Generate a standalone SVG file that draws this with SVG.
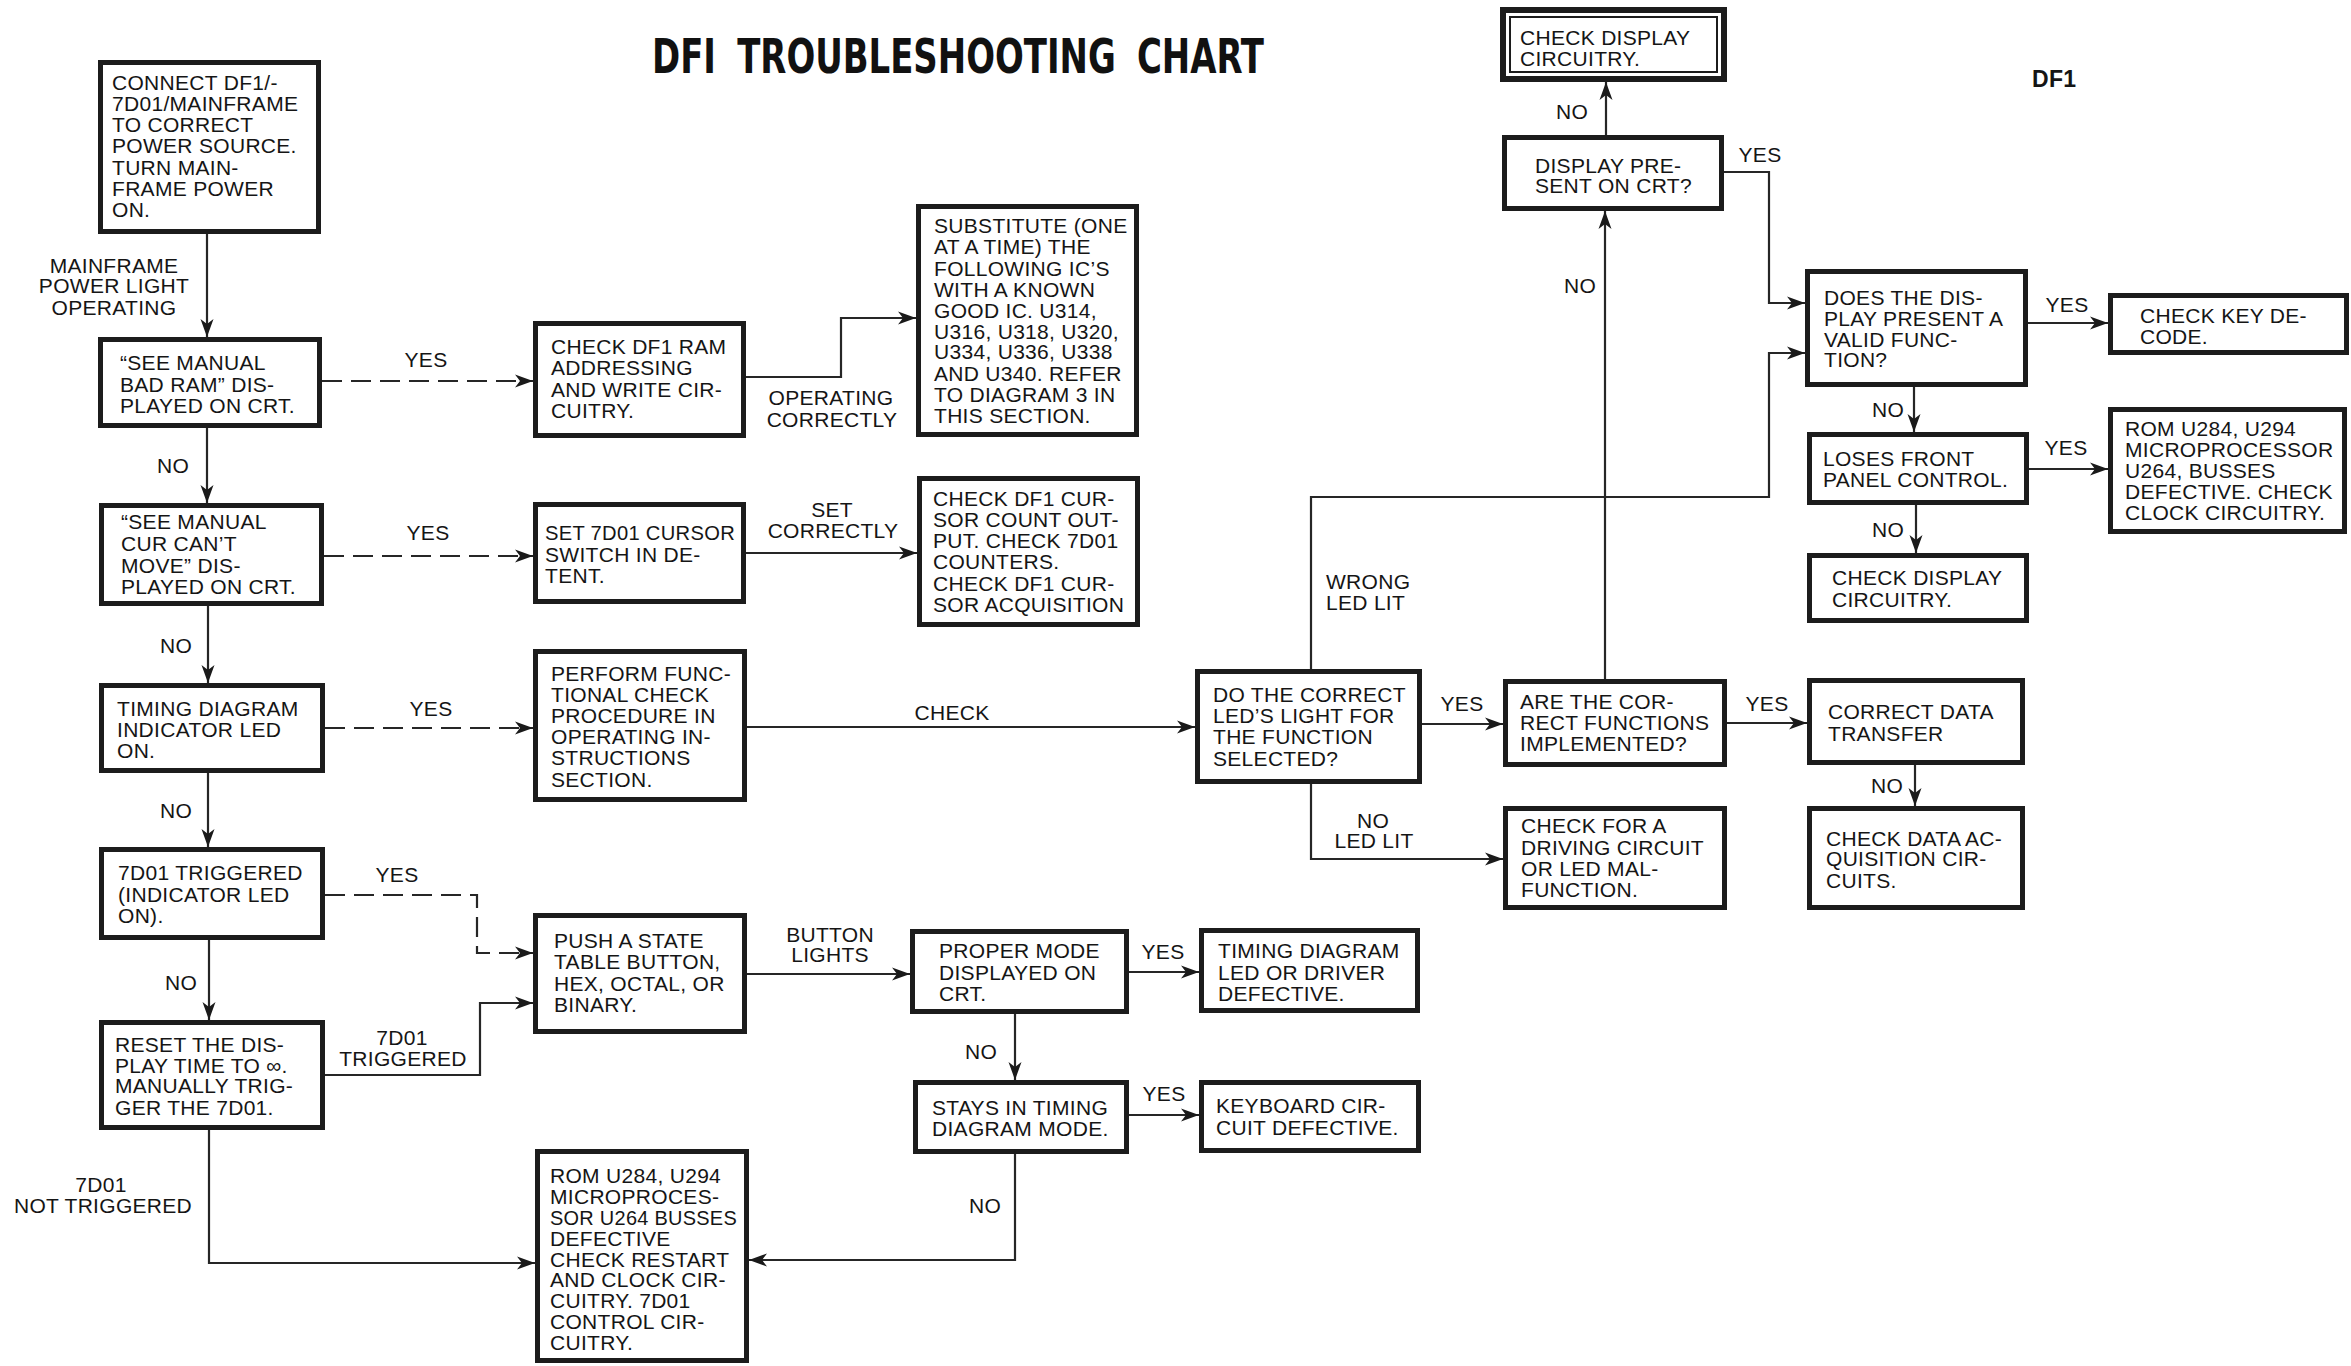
<svg xmlns="http://www.w3.org/2000/svg" width="2351" height="1366" viewBox="0 0 2351 1366">
<style>
.box{fill:#fff;stroke:#1c1c1c;stroke-width:5}
.t{font-family:"Liberation Sans",Arial,sans-serif;font-size:21px;fill:#151515;letter-spacing:0.3px}
.m{text-anchor:middle}
.c{fill:none;stroke:#262626;stroke-width:2.2}
.d{stroke-dasharray:20 9}
.title{font-family:"Liberation Sans Narrow","DejaVu Sans Condensed","Liberation Sans",sans-serif;font-size:48px;font-weight:bold;fill:#111}
</style>
<defs>
<marker id="ah" markerUnits="userSpaceOnUse" markerWidth="20" markerHeight="14" refX="18" refY="7" orient="auto">
<path d="M0,0.5 L18,7 L0,13.5 L5,7 Z" fill="#1a1a1a"/>
</marker>
</defs>
<rect width="2351" height="1366" fill="#fff"/>
<text class="title" x="652" y="73" textLength="612" lengthAdjust="spacingAndGlyphs" word-spacing="12">DFI TROUBLESHOOTING CHART</text>
<text class="t" x="2032" y="87" style="font-weight:bold;font-size:23px">DF1</text>

<g id="connectors">
<path class="c" d="M207,234 V337" marker-end="url(#ah)"/>
<path class="c" d="M207,428 V503" marker-end="url(#ah)"/>
<path class="c" d="M208,606 V683" marker-end="url(#ah)"/>
<path class="c" d="M208,773 V847" marker-end="url(#ah)"/>
<path class="c" d="M209,940 V1020" marker-end="url(#ah)"/>
<path class="c d" d="M322,381 H533" marker-end="url(#ah)"/>
<path class="c d" d="M324,556 H533" marker-end="url(#ah)"/>
<path class="c d" d="M325,728 H533" marker-end="url(#ah)"/>
<path class="c d" d="M325,895 H477 V953 H533" marker-end="url(#ah)"/>
<path class="c" d="M325,1075 H480 V1003 H533" marker-end="url(#ah)"/>
<path class="c" d="M209,1130 V1263 H535" marker-end="url(#ah)"/>
<path class="c" d="M746,377 H841 V318 H916" marker-end="url(#ah)"/>
<path class="c" d="M746,553 H917" marker-end="url(#ah)"/>
<path class="c" d="M747,727 H1195" marker-end="url(#ah)"/>
<path class="c" d="M747,974 H910" marker-end="url(#ah)"/>
<path class="c" d="M1129,972 H1199" marker-end="url(#ah)"/>
<path class="c" d="M1015,1014 V1080" marker-end="url(#ah)"/>
<path class="c" d="M1129,1115 H1199" marker-end="url(#ah)"/>
<path class="c" d="M1015,1154 V1260 H749" marker-end="url(#ah)"/>
<path class="c" d="M1422,724 H1503" marker-end="url(#ah)"/>
<path class="c" d="M1311,784 V859 H1503" marker-end="url(#ah)"/>
<path class="c" d="M1311,669 V497 H1769 V353 H1805" marker-end="url(#ah)"/>
<path class="c" d="M1605,679 V211" marker-end="url(#ah)"/>
<path class="c" d="M1727,723 H1807" marker-end="url(#ah)"/>
<path class="c" d="M1606,135 V82" marker-end="url(#ah)"/>
<path class="c" d="M1724,172 H1769 V303 H1805" marker-end="url(#ah)"/>
<path class="c" d="M2028,323 H2108" marker-end="url(#ah)"/>
<path class="c" d="M1914,387 V432" marker-end="url(#ah)"/>
<path class="c" d="M2029,469 H2108" marker-end="url(#ah)"/>
<path class="c" d="M1916,505 V553" marker-end="url(#ah)"/>
<path class="c" d="M1915,765 V806" marker-end="url(#ah)"/>
<text class="t m"><tspan x="114" y="273">MAINFRAME</tspan><tspan x="114" y="293">POWER LIGHT</tspan><tspan x="114" y="315">OPERATING</tspan></text>
<text class="t m" x="173" y="473">NO</text>
<text class="t m" x="176" y="653">NO</text>
<text class="t m" x="176" y="818">NO</text>
<text class="t m" x="181" y="990">NO</text>
<text class="t m" x="426" y="367">YES</text>
<text class="t m" x="428" y="540">YES</text>
<text class="t m" x="431" y="716">YES</text>
<text class="t m" x="397" y="882">YES</text>
<text class="t m"><tspan x="402" y="1045">7D01</tspan><tspan x="403" y="1066">TRIGGERED</tspan></text>
<text class="t m"><tspan x="101" y="1192">7D01</tspan><tspan x="103" y="1213">NOT TRIGGERED</tspan></text>
<text class="t m"><tspan x="831" y="405">OPERATING</tspan><tspan x="832" y="427">CORRECTLY</tspan></text>
<text class="t m"><tspan x="832" y="517">SET</tspan><tspan x="833" y="538">CORRECTLY</tspan></text>
<text class="t m" x="952" y="720">CHECK</text>
<text class="t m"><tspan x="830" y="942">BUTTON</tspan><tspan x="830" y="962">LIGHTS</tspan></text>
<text class="t m" x="1163" y="959">YES</text>
<text class="t m" x="981" y="1059">NO</text>
<text class="t m" x="1164" y="1101">YES</text>
<text class="t m" x="985" y="1213">NO</text>
<text class="t m" x="1462" y="711">YES</text>
<text class="t m"><tspan x="1373" y="828">NO</tspan><tspan x="1374" y="848">LED LIT</tspan></text>
<text class="t"><tspan x="1326" y="589">WRONG</tspan><tspan x="1326" y="610">LED LIT</tspan></text>
<text class="t m" x="1580" y="293">NO</text>
<text class="t m" x="1767" y="711">YES</text>
<text class="t m" x="1572" y="119">NO</text>
<text class="t m" x="1760" y="162">YES</text>
<text class="t m" x="2067" y="312">YES</text>
<text class="t m" x="1888" y="417">NO</text>
<text class="t m" x="2066" y="455">YES</text>
<text class="t m" x="1888" y="537">NO</text>
<text class="t m" x="1887" y="793">NO</text>
</g>

<g id="n1"><rect class="box" x="100.5" y="62.5" width="218" height="169"/>
<text class="t"><tspan x="112" y="90">CONNECT DF1/-</tspan><tspan x="112" y="111">7D01/MAINFRAME</tspan><tspan x="112" y="132">TO CORRECT</tspan><tspan x="112" y="153">POWER SOURCE.</tspan><tspan x="112" y="175">TURN MAIN-</tspan><tspan x="112" y="196">FRAME POWER</tspan><tspan x="112" y="217">ON.</tspan></text></g>
<g id="n2"><rect class="box" x="100.5" y="339.5" width="219" height="86"/>
<text class="t"><tspan x="120" y="370">“SEE MANUAL</tspan><tspan x="120" y="392">BAD RAM” DIS-</tspan><tspan x="120" y="413">PLAYED ON CRT.</tspan></text></g>
<g id="n3"><rect class="box" x="535.5" y="323.5" width="208" height="112"/>
<text class="t"><tspan x="551" y="354">CHECK DF1 RAM</tspan><tspan x="551" y="375">ADDRESSING</tspan><tspan x="551" y="397">AND WRITE CIR-</tspan><tspan x="551" y="418">CUITRY.</tspan></text></g>
<g id="n4"><rect class="box" x="101.5" y="505.5" width="220" height="98"/>
<text class="t"><tspan x="121" y="529">“SEE MANUAL</tspan><tspan x="121" y="551">CUR CAN’T</tspan><tspan x="121" y="573">MOVE” DIS-</tspan><tspan x="121" y="594">PLAYED ON CRT.</tspan></text></g>
<g id="n5"><rect class="box" x="535.5" y="504.5" width="208" height="97"/>
<text class="t"><tspan x="545" y="540" textLength="190" lengthAdjust="spacingAndGlyphs">SET 7D01 CURSOR</tspan><tspan x="545" y="562">SWITCH IN DE-</tspan><tspan x="545" y="583">TENT.</tspan></text></g>
<g id="n6"><rect class="box" x="101.5" y="685.5" width="221" height="85"/>
<text class="t"><tspan x="117" y="716">TIMING DIAGRAM</tspan><tspan x="117" y="737">INDICATOR LED</tspan><tspan x="117" y="758">ON.</tspan></text></g>
<g id="n7"><rect class="box" x="535.5" y="651.5" width="209" height="148"/>
<text class="t"><tspan x="551" y="681">PERFORM FUNC-</tspan><tspan x="551" y="702">TIONAL CHECK</tspan><tspan x="551" y="723">PROCEDURE IN</tspan><tspan x="551" y="744">OPERATING IN-</tspan><tspan x="551" y="765">STRUCTIONS</tspan><tspan x="551" y="787">SECTION.</tspan></text></g>
<g id="n8"><rect class="box" x="101.5" y="849.5" width="221" height="88"/>
<text class="t"><tspan x="118" y="880">7D01 TRIGGERED</tspan><tspan x="118" y="902">(INDICATOR LED</tspan><tspan x="118" y="923">ON).</tspan></text></g>
<g id="n9"><rect class="box" x="535.5" y="915.5" width="209" height="116"/>
<text class="t"><tspan x="554" y="948">PUSH A STATE</tspan><tspan x="554" y="969">TABLE BUTTON,</tspan><tspan x="554" y="991">HEX, OCTAL, OR</tspan><tspan x="554" y="1012">BINARY.</tspan></text></g>
<g id="n10"><rect class="box" x="101.5" y="1022.5" width="221" height="105"/>
<text class="t"><tspan x="115" y="1052">RESET THE DIS-</tspan><tspan x="115" y="1073">PLAY TIME TO ∞.</tspan><tspan x="115" y="1093">MANUALLY TRIG-</tspan><tspan x="115" y="1115">GER THE 7D01.</tspan></text></g>
<g id="n11"><rect class="box" x="537.5" y="1151.5" width="209" height="209"/>
<text class="t"><tspan x="550" y="1183">ROM U284, U294</tspan><tspan x="550" y="1204">MICROPROCES-</tspan><tspan x="550" y="1225" textLength="187" lengthAdjust="spacingAndGlyphs">SOR U264 BUSSES</tspan><tspan x="550" y="1246">DEFECTIVE</tspan><tspan x="550" y="1267">CHECK RESTART</tspan><tspan x="550" y="1287">AND CLOCK CIR-</tspan><tspan x="550" y="1308">CUITRY. 7D01</tspan><tspan x="550" y="1329">CONTROL CIR-</tspan><tspan x="550" y="1350">CUITRY.</tspan></text></g>
<g id="n12"><rect class="box" x="918.5" y="206.5" width="218" height="228"/>
<text class="t"><tspan x="934" y="233">SUBSTITUTE (ONE</tspan><tspan x="934" y="254">AT A TIME) THE</tspan><tspan x="934" y="276">FOLLOWING IC’S</tspan><tspan x="934" y="297">WITH A KNOWN</tspan><tspan x="934" y="318">GOOD IC. U314,</tspan><tspan x="934" y="339">U316, U318, U320,</tspan><tspan x="934" y="359">U334, U336, U338</tspan><tspan x="934" y="381">AND U340. REFER</tspan><tspan x="934" y="402">TO DIAGRAM 3 IN</tspan><tspan x="934" y="423">THIS SECTION.</tspan></text></g>
<g id="n13"><rect class="box" x="919.5" y="478.5" width="218" height="146"/>
<text class="t"><tspan x="933" y="506">CHECK DF1 CUR-</tspan><tspan x="933" y="527">SOR COUNT OUT-</tspan><tspan x="933" y="548">PUT. CHECK 7D01</tspan><tspan x="933" y="569">COUNTERS.</tspan><tspan x="933" y="591">CHECK DF1 CUR-</tspan><tspan x="933" y="612">SOR ACQUISITION</tspan></text></g>
<g id="n14"><rect class="box" x="1197.5" y="671.5" width="222" height="110"/>
<text class="t"><tspan x="1213" y="702">DO THE CORRECT</tspan><tspan x="1213" y="723">LED’S LIGHT FOR</tspan><tspan x="1213" y="744">THE FUNCTION</tspan><tspan x="1213" y="766">SELECTED?</tspan></text></g>
<g id="n15"><rect class="box" x="912.5" y="931.5" width="214" height="80"/>
<text class="t"><tspan x="939" y="958">PROPER MODE</tspan><tspan x="939" y="980">DISPLAYED ON</tspan><tspan x="939" y="1001">CRT.</tspan></text></g>
<g id="n16"><rect class="box" x="1201.5" y="930.5" width="216" height="80"/>
<text class="t"><tspan x="1218" y="958">TIMING DIAGRAM</tspan><tspan x="1218" y="980">LED OR DRIVER</tspan><tspan x="1218" y="1001">DEFECTIVE.</tspan></text></g>
<g id="n17"><rect class="box" x="915.5" y="1082.5" width="211" height="69"/>
<text class="t"><tspan x="932" y="1115">STAYS IN TIMING</tspan><tspan x="932" y="1136">DIAGRAM MODE.</tspan></text></g>
<g id="n18"><rect class="box" x="1201.5" y="1082.5" width="217" height="68"/>
<text class="t"><tspan x="1216" y="1113">KEYBOARD CIR-</tspan><tspan x="1216" y="1135">CUIT DEFECTIVE.</tspan></text></g>
<g id="n19"><rect class="box" x="1505.5" y="681.5" width="219" height="83"/>
<text class="t"><tspan x="1520" y="709">ARE THE COR-</tspan><tspan x="1520" y="730">RECT FUNCTIONS</tspan><tspan x="1520" y="751">IMPLEMENTED?</tspan></text></g>
<g id="n20"><rect class="box" x="1809.5" y="680.5" width="213" height="82"/>
<text class="t"><tspan x="1828" y="719">CORRECT DATA</tspan><tspan x="1828" y="741">TRANSFER</tspan></text></g>
<g id="n21"><rect class="box" x="1505.5" y="808.5" width="219" height="99"/>
<text class="t"><tspan x="1521" y="833">CHECK FOR A</tspan><tspan x="1521" y="855">DRIVING CIRCUIT</tspan><tspan x="1521" y="876">OR LED MAL-</tspan><tspan x="1521" y="897">FUNCTION.</tspan></text></g>
<g id="n22"><rect class="box" x="1503" y="10" width="221" height="69" style="stroke-width:6"/>
<rect x="1510" y="17" width="207" height="55" fill="none" stroke="#1c1c1c" stroke-width="2"/>
<text class="t"><tspan x="1520" y="45">CHECK DISPLAY</tspan><tspan x="1520" y="66">CIRCUITRY.</tspan></text></g>
<g id="n23"><rect class="box" x="1504.5" y="137.5" width="217" height="71"/>
<text class="t"><tspan x="1535" y="173">DISPLAY PRE-</tspan><tspan x="1535" y="193">SENT ON CRT?</tspan></text></g>
<g id="n24"><rect class="box" x="1807.5" y="271.5" width="218" height="113"/>
<text class="t"><tspan x="1824" y="305">DOES THE DIS-</tspan><tspan x="1824" y="326">PLAY PRESENT A</tspan><tspan x="1824" y="347">VALID FUNC-</tspan><tspan x="1824" y="367">TION?</tspan></text></g>
<g id="n25"><rect class="box" x="2110.5" y="295.5" width="236" height="57"/>
<text class="t"><tspan x="2140" y="323">CHECK KEY DE-</tspan><tspan x="2140" y="344">CODE.</tspan></text></g>
<g id="n26"><rect class="box" x="1809.5" y="434.5" width="217" height="68"/>
<text class="t"><tspan x="1823" y="466">LOSES FRONT</tspan><tspan x="1823" y="487">PANEL CONTROL.</tspan></text></g>
<g id="n27"><rect class="box" x="2110.5" y="409.5" width="234" height="122"/>
<text class="t"><tspan x="2125" y="436">ROM U284, U294</tspan><tspan x="2125" y="457">MICROPROCESSOR</tspan><tspan x="2125" y="478">U264, BUSSES</tspan><tspan x="2125" y="499">DEFECTIVE. CHECK</tspan><tspan x="2125" y="520">CLOCK CIRCUITRY.</tspan></text></g>
<g id="n28"><rect class="box" x="1809.5" y="555.5" width="217" height="65"/>
<text class="t"><tspan x="1832" y="585">CHECK DISPLAY</tspan><tspan x="1832" y="607">CIRCUITRY.</tspan></text></g>
<g id="n29"><rect class="box" x="1809.5" y="808.5" width="213" height="99"/>
<text class="t"><tspan x="1826" y="846">CHECK DATA AC-</tspan><tspan x="1826" y="866">QUISITION CIR-</tspan><tspan x="1826" y="888">CUITS.</tspan></text></g>
</svg>
